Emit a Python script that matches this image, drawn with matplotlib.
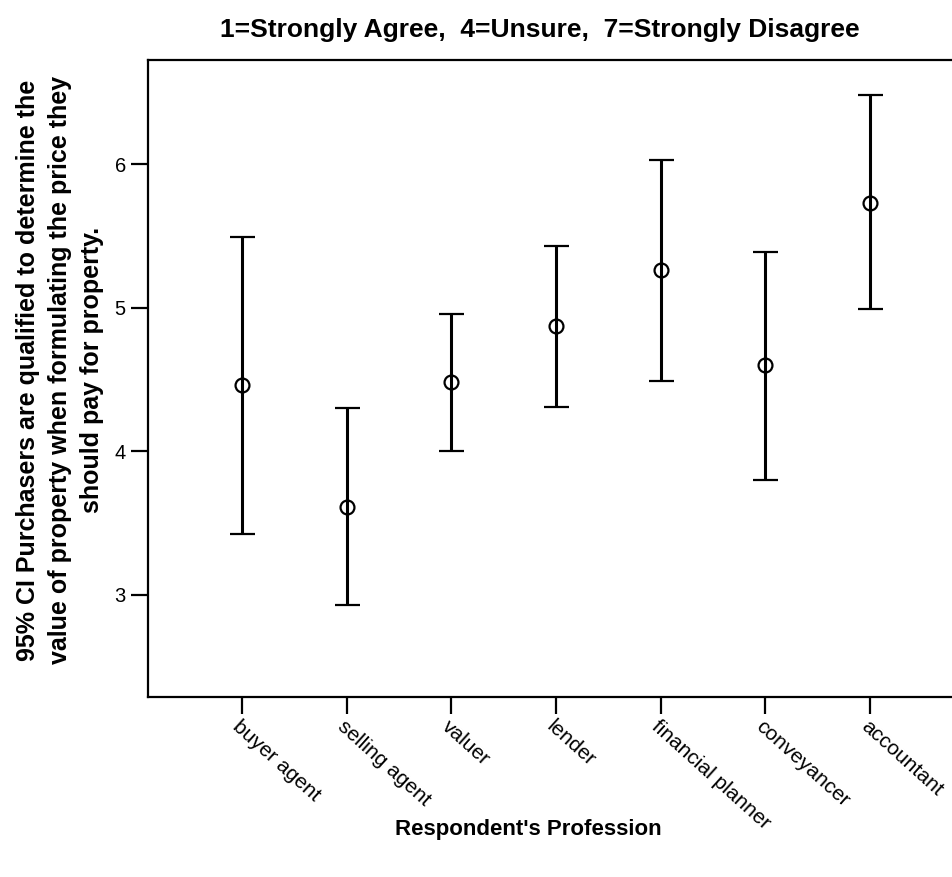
import matplotlib
matplotlib.use("Agg")
import matplotlib.pyplot as plt
import numpy as np

plt.rcParams['font.family'] = ['Liberation Sans', 'DejaVu Sans']

categories = ["buyer agent", "selling agent", "valuer", "lender",
              "financial planner", "conveyancer", "accountant"]
means = [4.46, 3.61, 4.48, 4.87, 5.26, 4.60, 5.73]
lower = [3.42, 2.93, 4.00, 4.31, 4.49, 3.80, 4.99]
upper = [5.49, 4.30, 4.96, 5.43, 6.03, 5.39, 6.48]
yticks = [3, 4, 5, 6]

fig = plt.figure(figsize=(9.52, 8.77), dpi=100)
ax = fig.add_axes([148/952, 180/877, (964-148)/952, (817-180)/877])

x = np.arange(len(categories))
m = np.array(means)
err = np.vstack([m - np.array(lower), np.array(upper) - m])
ax.errorbar(x, m, yerr=err, fmt='o', mfc='none', mec='black', mew=1.6,
            ms=10, ecolor='black', elinewidth=2.2, capsize=9, capthick=2.4,
            color='black')

ax.set_xlim(-0.9, 6.9)
ax.set_ylim(2.287, 6.727)
ax.set_yticks(yticks)
ax.set_yticklabels([str(t) for t in yticks], fontsize=14.5)
ax.set_xticks(x)
ax.set_xticklabels(categories, rotation=-42, ha='left', va='top',
                   fontsize=15)
for lab in ax.get_xticklabels():
    lab.set_rotation_mode('anchor')
ax.tick_params(axis='both', direction='out', length=12, width=1.6, pad=4)
ax.tick_params(axis='x', pad=2)
for s in ax.spines.values():
    s.set_linewidth(1.6)

fig.text(540/952, 1 - 30/877, "1=Strongly Agree,  4=Unsure,  7=Strongly Disagree",
         ha='center', va='center', fontsize=19, fontweight='bold')
fig.text(528/952, 1 - 830/877, "Respondent's Profession",
         ha='center', va='center', fontsize=16, fontweight='bold')
fig.text(60/952, 1 - 370/877,
         "95% CI Purchasers are qualified to determine the\n"
         "value of property when formulating the price they\n"
         "should pay for property.",
         ha='center', va='center', rotation=90, fontsize=18, fontweight='bold',
         multialignment='center', linespacing=1.42)

fig.savefig("out.png", dpi=100)
